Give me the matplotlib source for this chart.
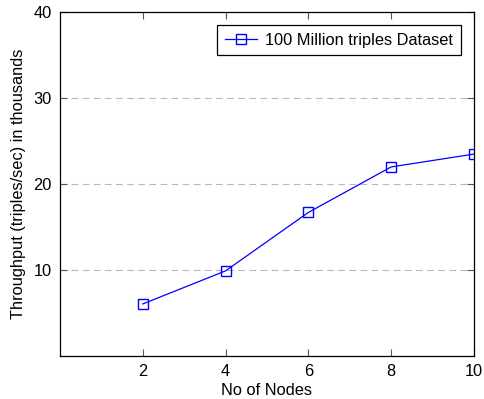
import matplotlib
matplotlib.use("Agg")
import matplotlib.pyplot as plt

nodes = [2, 4, 6, 8, 10]
throughput = [6.05, 9.9, 16.7, 22.0, 23.5]
series_label = "100 Million triples Dataset"
x_ticks = [2, 4, 6, 8, 10]
y_ticks = [10, 20, 30, 40]

plt.rcParams['font.family'] = ['Liberation Sans', 'DejaVu Sans']

fig = plt.figure(figsize=(4.84, 3.99), dpi=100)
ax = fig.add_axes([0.124, 0.108, 0.855, 0.861])

ax.plot(nodes, throughput, color='blue', linewidth=0.9, marker='s', markersize=7,
        markerfacecolor='none', markeredgecolor='blue', markeredgewidth=1.0, label=series_label)

ax.set_xlim(0, 10)
ax.set_ylim(0, 40)
ax.set_xticks(x_ticks)
ax.set_yticks(y_ticks)
for y in [10, 20, 30]:
    ax.axhline(y, color='#b8b8b8', linestyle=(0, (6, 4)), linewidth=0.8, zorder=0)

ax.tick_params(direction='in', top=True, right=True, length=5, width=0.8,
               labelsize=11.8, color='#555555', pad=6)
for s in ax.spines.values():
    s.set_linewidth(0.9)

ax.set_xlabel("No of Nodes", fontsize=11.8, labelpad=3)
ax.set_ylabel("Throughput (triples/sec) in thousands", fontsize=11.8, labelpad=5)

leg = ax.legend(loc='upper right', fontsize=11.8, fancybox=False, framealpha=1,
                edgecolor='black', borderaxespad=0.8, handlelength=2.0, handletextpad=0.5,
                borderpad=0.45)
leg.get_frame().set_linewidth(0.9)

fig.savefig("out.png", dpi=100)
